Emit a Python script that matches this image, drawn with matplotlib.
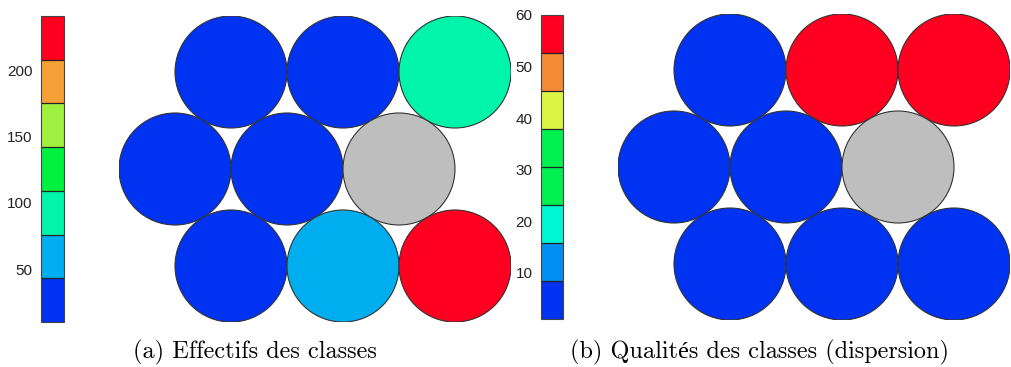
import numpy as np
import matplotlib
matplotlib.use('Agg')
import matplotlib.pyplot as plt
from matplotlib.colors import ListedColormap, BoundaryNorm
from matplotlib.patches import Circle
from matplotlib.collections import PatchCollection

# grille hexagonale 3x3 (ligne du haut, milieu, bas)
row_y = [np.sqrt(3), np.sqrt(3) / 2, 0.0]
row_offset = [0.5, 0.0, 0.5]
n_cols = 3

# (a) effectifs des classes (nan = neurone vide)
effectifs = [[20, 20, 95],
             [20, 20, np.nan],
             [20, 60, 230]]
bounds_a = [10, 43, 76, 109, 142, 175, 208, 241]
colors_a = ['#0032F2', '#00AEF0', '#00F5AA', '#00F040', '#A0F040', '#F5A035', '#FF0020']
ticks_a = [50, 100, 150, 200]

# (b) qualites des classes (dispersion)
qualites = [[4, 58, 58],
            [4, 4, np.nan],
            [4, 4, 4]]
bounds_b = [1, 8.4, 15.8, 23.1, 30.5, 37.9, 45.3, 52.6, 60]
colors_b = ['#0032F2', '#008EF0', '#00F5D5', '#00F050', '#00F050', '#DDF545', '#F58A35', '#FF0020']
ticks_b = [10, 20, 30, 40, 50, 60]

W, H = 1011, 367
fig = plt.figure(figsize=(W / 100, H / 100), dpi=100)


def px(x0, y0, x1, y1):
    return [x0 / W, 1 - y1 / H, (x1 - x0) / W, (y1 - y0) / H]


def draw_map(ax, cax, vals, bounds, colors, ticks):
    cmap = ListedColormap(colors)
    cmap.set_bad('#BEBEBE')
    norm = BoundaryNorm(bounds, cmap.N)
    patches, arr = [], []
    for r in range(3):
        for c in range(n_cols):
            patches.append(Circle((row_offset[r] + c, row_y[r]), 0.5))
            arr.append(vals[r][c])
    pc = PatchCollection(patches, cmap=cmap, norm=norm,
                         edgecolor='#333333', linewidth=0.8)
    pc.set_array(np.ma.masked_invalid(np.array(arr, dtype=float)))
    ax.add_collection(pc)
    ax.set_xlim(-0.5, 3.0)
    ax.set_ylim(-0.5, np.sqrt(3) + 0.5)
    ax.axis('off')

    cb = fig.colorbar(pc, cax=cax, ticks=ticks, drawedges=True)
    cb.outline.set_edgecolor('#444444')
    cb.outline.set_linewidth(0.8)
    cb.dividers.set_color('#222222')
    cb.dividers.set_linewidth(0.9)
    cax.yaxis.set_ticks_position('left')
    cax.minorticks_off()
    cax.tick_params(which='both', length=0, pad=6, labelsize=11, labelcolor='#222222')
    for t in cax.get_yticklabels():
        t.set_fontfamily('Liberation Sans')


ax_a = fig.add_axes(px(119, 16, 511, 322))
cax_a = fig.add_axes(px(41, 16, 64, 322))
draw_map(ax_a, cax_a, effectifs, bounds_a, colors_a, ticks_a)

ax_b = fig.add_axes(px(618, 14, 1010, 320))
cax_b = fig.add_axes(px(541, 15, 563, 319))
draw_map(ax_b, cax_b, qualites, bounds_b, colors_b, ticks_b)

cap_font = ['cmr10', 'Liberation Serif']
fig.text(255 / W, 1 - 352 / H, '(a) Effectifs des classes', ha='center', va='center',
         fontsize=17.5, family=cap_font)
fig.text(760 / W, 1 - 352 / H, '(b) Qualités des classes (dispersion)', ha='center', va='center',
         fontsize=17.5, family=cap_font)

fig.savefig('out.png', dpi=100)
